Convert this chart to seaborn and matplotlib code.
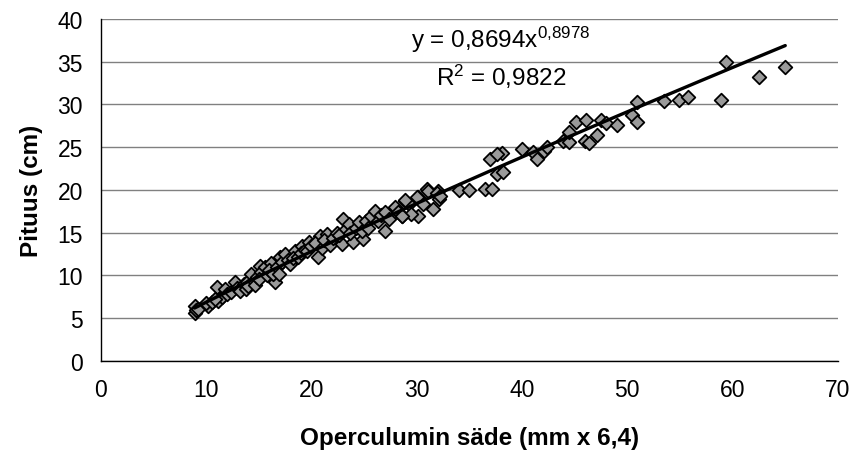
import numpy as np
import pandas as pd
import matplotlib
matplotlib.use("Agg")
import matplotlib.pyplot as plt
import seaborn as sns

# Operculum radius (mm x 6.4) vs length (cm)
x_vals = [
    8.9, 8.9, 9.0, 9.2,
    10.2, 10.0, 10.6, 11.1, 11.0, 11.5, 10.8,
    11.8, 12.0, 12.4, 12.7, 12.9, 13.4, 13.2, 13.6, 13.9, 13.8, 14.0,
    14.3, 14.5, 14.6, 14.8, 15.1, 15.2, 15.0, 15.6, 15.8, 16.2, 16.0, 16.5, 16.3, 16.7, 16.9,
    17.0, 17.2, 17.5, 17.8, 18.0, 18.4, 18.2, 18.7, 19.1, 19.0, 19.4, 19.8, 19.6, 20.0,
    20.6, 20.8, 20.3, 21.0, 21.5, 21.2, 21.8, 22.0, 22.4, 22.9, 22.6, 23.0, 23.3, 23.6, 23.9,
    23.7, 24.2, 24.5, 24.9, 24.8, 25.2, 25.4, 25.7, 26.0, 26.3, 26.6, 27.0, 27.0, 27.4, 27.9,
    28.2, 28.9, 28.6, 29.3, 30.1, 30.1, 30.6,
    31.0, 32.0, 28.9, 30.0, 31.1, 31.9, 31.5, 32.1, 29.5, 28.6, 32.2,
    34.0, 35.0, 36.5, 37.1, 37.6, 38.2, 37.0, 38.1, 37.6,
    40.0, 41.0, 41.4, 42.1, 42.4, 43.9, 44.5, 44.5, 45.1, 46.0, 46.4, 46.1, 47.1,
    47.5, 48.0, 49.0, 50.4, 50.9, 50.9,
    53.5, 54.9, 55.8, 58.9, 59.4, 62.5, 65.0,
]
y_vals = [
    6.4, 5.6, 5.9, 6.1,
    6.4, 6.8, 6.9, 7.0, 8.6, 7.5, 7.2,
    8.4, 7.8, 8.1, 9.2, 8.5, 8.7, 8.2, 9.0, 9.2, 8.4, 8.8,
    10.2, 9.4, 8.9, 9.8, 11.1, 10.4, 9.6, 11.0, 10.0, 11.5, 10.6, 9.2, 10.2, 11.0, 10.2,
    12.2, 11.6, 12.5, 11.8, 11.3, 12.9, 12.0, 12.2, 13.5, 12.6, 13.0, 13.9, 12.9, 13.4,
    12.2, 14.6, 13.8, 13.2, 14.9, 14.1, 13.6, 14.4, 15.0, 13.7, 14.7, 16.6, 15.4, 16.0, 13.9,
    15.0, 15.6, 16.2, 14.3, 15.2, 16.4, 15.6, 17.0, 17.5, 16.4, 17.1, 17.4, 15.2, 16.6, 18.0,
    17.4, 18.7, 17.0, 18.3, 19.2, 17.0, 18.4,
    20.1, 19.9, 18.8, 19.2, 19.9, 19.7, 17.8, 18.9, 17.2, 17.0, 19.3,
    20.0, 20.0, 20.1, 20.1, 21.9, 22.1, 23.6, 24.3, 24.2,
    24.8, 24.4, 23.6, 24.6, 25.0, 25.7, 25.6, 26.8, 27.9, 25.7, 25.5, 28.2, 26.4,
    28.2, 27.8, 27.6, 28.8, 30.3, 27.9,
    30.4, 30.5, 30.9, 30.5, 35.0, 33.2, 34.4,
]

# Power trendline y = a * x^b
coef_a = 0.8694
coef_b = 0.8978
fit_label = "y = 0,8694x$^{0{,}8978}$"
r2_label = "R$^2$ = 0,9822"
x_label = "Operculumin säde (mm x 6,4)"
y_label = "Pituus (cm)"
x_ticks = [0, 10, 20, 30, 40, 50, 60, 70]
y_ticks = [0, 5, 10, 15, 20, 25, 30, 35, 40]

df = pd.DataFrame({"x": x_vals, "y": y_vals})
fit_x = np.linspace(min(x_vals), max(x_vals), 200)
fit_df = pd.DataFrame({"x": fit_x, "y": coef_a * fit_x ** coef_b})

sns.set_style("white")
plt.rcParams["font.family"] = ["Liberation Sans", "DejaVu Sans"]
plt.rcParams["mathtext.fontset"] = "custom"
plt.rcParams["mathtext.rm"] = "Liberation Sans"
plt.rcParams["mathtext.it"] = "Liberation Sans"
plt.rcParams["mathtext.default"] = "regular"
plt.rcParams["text.color"] = "black"
plt.rcParams["axes.labelcolor"] = "black"
plt.rcParams["xtick.color"] = "black"
plt.rcParams["ytick.color"] = "black"

fig, ax = plt.subplots(figsize=(8.55, 4.64), dpi=100)
fig.subplots_adjust(left=0.118, right=0.980, top=0.957, bottom=0.220)

sns.scatterplot(data=df, x="x", y="y", ax=ax, marker="D", s=48,
                color="#9a9a9a", edgecolor="black", linewidth=1.3, zorder=3)
sns.lineplot(data=fit_df, x="x", y="y", ax=ax, color="black", linewidth=2.4,
             zorder=4, estimator=None, sort=True)

ax.set_xlim(0, 70)
ax.set_ylim(0, 40)
ax.set_xticks(x_ticks)
ax.set_yticks(y_ticks)
ax.tick_params(axis="both", labelsize=16.5, length=5, width=1, colors="black",
               direction="out")
ax.tick_params(axis="y", pad=8)
ax.tick_params(axis="x", pad=7)
ax.yaxis.grid(True, color="#808080", linewidth=1)
ax.xaxis.grid(False)
ax.set_axisbelow(True)
for s in ["top", "right"]:
    ax.spines[s].set_visible(False)
for s in ["left", "bottom"]:
    ax.spines[s].set_color("black")
    ax.spines[s].set_linewidth(1)

ax.set_xlabel(x_label, fontsize=17.5, fontweight="bold", labelpad=18, color="black")
ax.set_ylabel(y_label, fontsize=17.5, fontweight="bold", labelpad=10, color="black")

ax.text(38.0, 37.7, fit_label, fontsize=17.5, ha="center", va="center", color="black")
ax.text(38.0, 33.3, r2_label, fontsize=17.5, ha="center", va="center", color="black")

fig.savefig("out.png", dpi=100)
